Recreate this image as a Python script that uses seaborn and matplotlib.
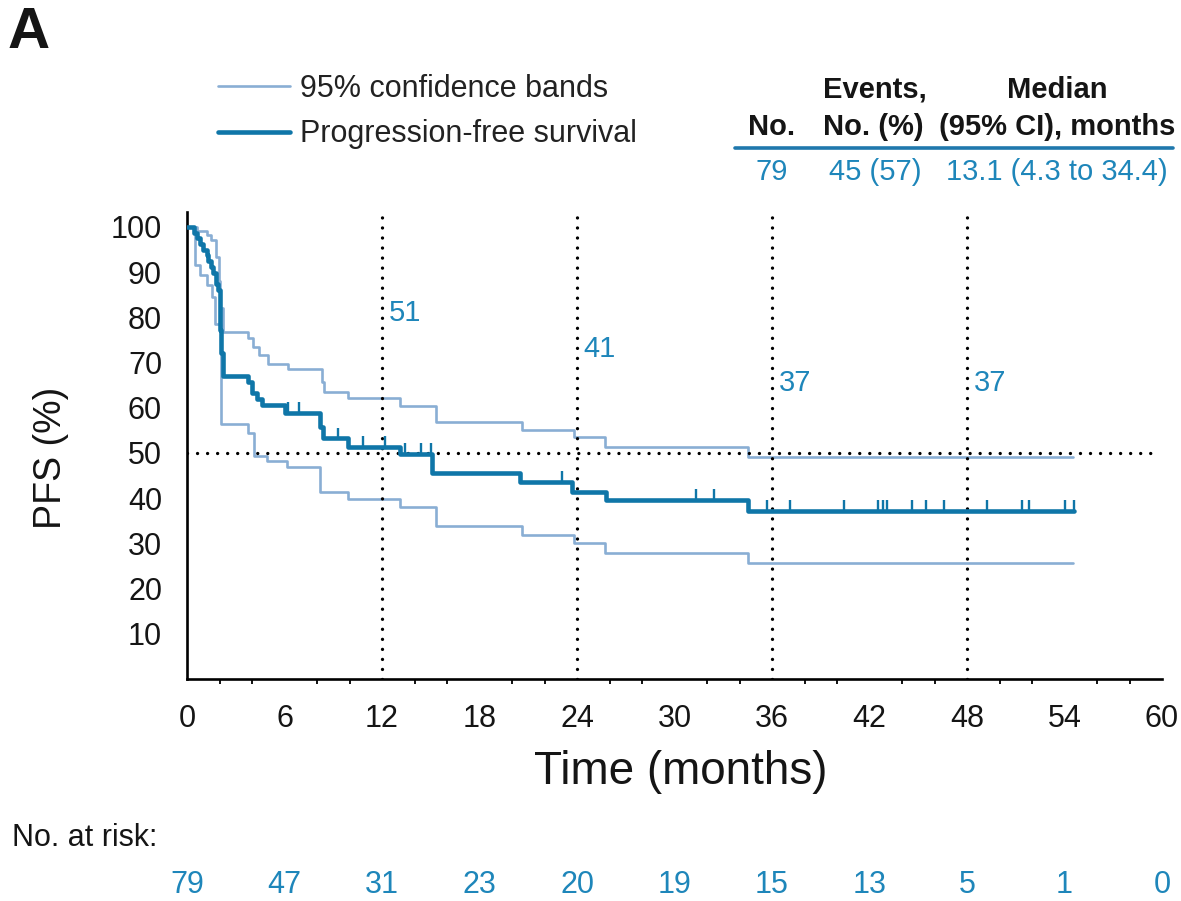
import numpy as np
import matplotlib
matplotlib.use("Agg")
import matplotlib.pyplot as plt
import seaborn as sns
from matplotlib.lines import Line2D
from matplotlib import transforms
from matplotlib.ticker import MultipleLocator

# Kaplan-Meier estimate: each value holds from its time until the next time
pfs_time = [0, 0.4, 0.6, 0.8, 1.0, 1.2, 1.3, 1.5, 1.6, 1.8, 1.9, 2.0, 2.05, 2.1, 2.2,
            3.75, 4.0, 4.3, 4.6, 6.0, 8.2, 8.35, 9.9, 13.1, 15.1, 20.5, 23.7, 25.8,
            34.5, 54.6]
pfs_surv = [100, 98.7, 97.5, 96.2, 94.9, 93.7, 92.4, 91.1, 89.9, 87.3, 86.1, 81.0, 77.2,
            72.2, 67.1, 65.8, 63.3, 62.0, 60.6, 58.9, 55.7, 53.2, 51.3, 49.8, 45.6, 43.5,
            41.4, 39.6, 37.2, 37.2]

# Upper and lower 95% confidence bands
upper_time = [0, 0.6, 1.2, 1.5, 1.8, 1.95, 2.05, 2.2, 3.75, 4.05, 4.4, 5.0, 6.2, 8.3,
              8.45, 9.9, 13.1, 15.3, 20.6, 23.8, 25.7, 34.5, 54.5]
upper_surv = [100, 99.0, 98.2, 97.0, 93.4, 88.0, 82.0, 76.8, 75.4, 73.5, 71.7, 69.7,
              68.6, 65.8, 63.5, 62.2, 60.4, 56.9, 55.1, 53.5, 51.3, 49.1, 49.1]
lower_time = [0, 0.5, 0.8, 1.2, 1.55, 1.7, 2.1, 3.75, 4.15, 4.9, 6.15, 8.2, 9.9, 13.1,
              15.3, 20.6, 23.8, 25.7, 34.5, 54.5]
lower_surv = [100, 91.6, 89.4, 87.2, 84.5, 78.5, 56.5, 54.4, 49.4, 48.2, 46.9, 41.4,
              39.8, 38.0, 33.8, 31.9, 30.1, 27.9, 25.7, 25.7]

# Censored observations (months)
censor_time = [6.2, 6.9, 9.3, 10.8, 12.2, 13.4, 14.4, 15.0, 23.1, 31.3, 32.4, 35.7,
               37.1, 40.4, 42.5, 42.8, 43.1, 44.6, 45.5, 46.6, 49.2, 51.4, 51.8, 54.0,
               54.6]

landmark_months = [12, 24, 36, 48]
risk_months = [0, 6, 12, 18, 24, 30, 36, 42, 48, 54, 60]
at_risk = [79, 47, 31, 23, 20, 19, 15, 13, 5, 1, 0]

n_patients = 79
n_events = 45
pct_events = 57
median_pfs = 13.1
median_ci = (4.3, 34.4)

MAIN = "#0F76A8"
BAND = "#89AED4"
BLUE_TEXT = "#1E86BA"
INK = "#151515"

sns.set_theme(style="white")
plt.rcParams["font.family"] = ["Liberation Sans", "DejaVu Sans"]

W, H = 1181, 901
fig = plt.figure(figsize=(W / 100, H / 100), dpi=100)
ax = fig.add_axes([187 / W, 1 - 679 / H, 975 / W, 467 / H])


def fx(px):
    return px / W


def fy(py):
    return 1 - py / H


def surv_at(t):
    idx = np.searchsorted(pfs_time, t, side="right") - 1
    return pfs_surv[idx]


# Curves
sns.lineplot(x=upper_time, y=upper_surv, drawstyle="steps-post", estimator=None,
             color=BAND, lw=1.9, ax=ax, label="95% confidence bands", zorder=2)
sns.lineplot(x=lower_time, y=lower_surv, drawstyle="steps-post", estimator=None,
             color=BAND, lw=1.9, ax=ax, zorder=2)
sns.lineplot(x=pfs_time, y=pfs_surv, drawstyle="steps-post", estimator=None,
             color=MAIN, lw=3.3, ax=ax, label="Progression-free survival", zorder=4)

censor_y = np.array([surv_at(t) for t in censor_time])
ax.vlines(censor_time, censor_y, censor_y + 2.4, color=MAIN, lw=1.7, zorder=4)

# Reference lines
dot_style = dict(color="black", lw=2.4, linestyle=(0, (0.01, 3.0)),
                 dash_capstyle="round", zorder=3)
ax.axhline(50, xmin=0, xmax=59.7 / 60, **dot_style)
for t in landmark_months:
    ax.axvline(t, ymin=0, ymax=1, **dot_style)

# Landmark estimates
label_y = [81, 73, 65.5, 65.5]
for t, ly in zip(landmark_months, label_y):
    ax.text(t + 0.4, ly, f"{round(surv_at(t))}", color=BLUE_TEXT, fontsize=21,
            ha="left", va="center")

# Axes styling
ax.set_xlim(0, 60)
ax.set_ylim(0, 103.3)
ax.set_xticks(risk_months)
ax.xaxis.set_minor_locator(MultipleLocator(2))
ax.set_yticks(range(10, 101, 10))
for side in ("top", "right"):
    ax.spines[side].set_visible(False)
for side in ("left", "bottom"):
    ax.spines[side].set_color("black")
    ax.spines[side].set_linewidth(1.9)
ax.tick_params(axis="both", which="major", direction="out", length=7, width=1.5,
               color="black", labelsize=22, labelcolor=INK, pad=11)
ax.tick_params(axis="x", which="minor", direction="out", length=3.5, width=1.3,
               color="black", bottom=True)
ax.tick_params(axis="y", which="minor", left=False)
ax.grid(False)

ax.set_xlabel("Time (months)", fontsize=33, color=INK)
ax.xaxis.set_label_coords((681 - 187) / 975, (679 - 750) / 467)
ax.set_ylabel("PFS (%)", fontsize=27, color=INK)
ax.yaxis.set_label_coords((69 - 187) / 975, (679 - 458) / 467)

# Legend
leg = ax.legend(loc="upper left", bbox_to_anchor=(fx(218), fy(74)),
                bbox_transform=fig.transFigure, frameon=False,
                handlelength=2.35, handletextpad=0.35, labelspacing=0.5,
                borderpad=0, borderaxespad=0, prop={"size": 22})
for txt in leg.get_texts():
    txt.set_color("#222222")

# Summary table
hdr = dict(fontsize=21, fontweight="bold", color=INK, va="center")
fig.text(fx(795), fy(127), "No.", ha="right", **hdr)
fig.text(fx(875), fy(90), "Events,", ha="center", **hdr)
fig.text(fx(873), fy(127), "No. (%)", ha="center", **hdr)
fig.text(fx(1057), fy(90), "Median", ha="center", **hdr)
fig.text(fx(1057), fy(127), "(95% CI), months", ha="center", **hdr)
fig.add_artist(Line2D([fx(735), fx(1173)], [fy(148), fy(148)], color="#1F78AD",
                      lw=2.6, transform=fig.transFigure))
val = dict(fontsize=21, color=BLUE_TEXT, va="center")
fig.text(fx(772), fy(172), f"{n_patients}", ha="center", **val)
fig.text(fx(875), fy(172), f"{n_events} ({pct_events})", ha="center", **val)
fig.text(fx(1057), fy(172),
         f"{median_pfs} ({median_ci[0]} to {median_ci[1]})", ha="center", **val)

# Panel letter
fig.text(fx(8), fy(48), "A", fontsize=42, fontweight="bold", color=INK,
         ha="left", va="baseline")

# Numbers at risk
fig.text(fx(12), fy(838), "No. at risk:", fontsize=22, color=INK,
         ha="left", va="center")
risk_tr = transforms.blended_transform_factory(ax.transData, fig.transFigure)
for t, n in zip(risk_months, at_risk):
    ax.text(t, fy(885), f"{n}", transform=risk_tr, fontsize=22, color=BLUE_TEXT,
            ha="center", va="center", clip_on=False)

fig.savefig("out.png", dpi=100, facecolor="white")
